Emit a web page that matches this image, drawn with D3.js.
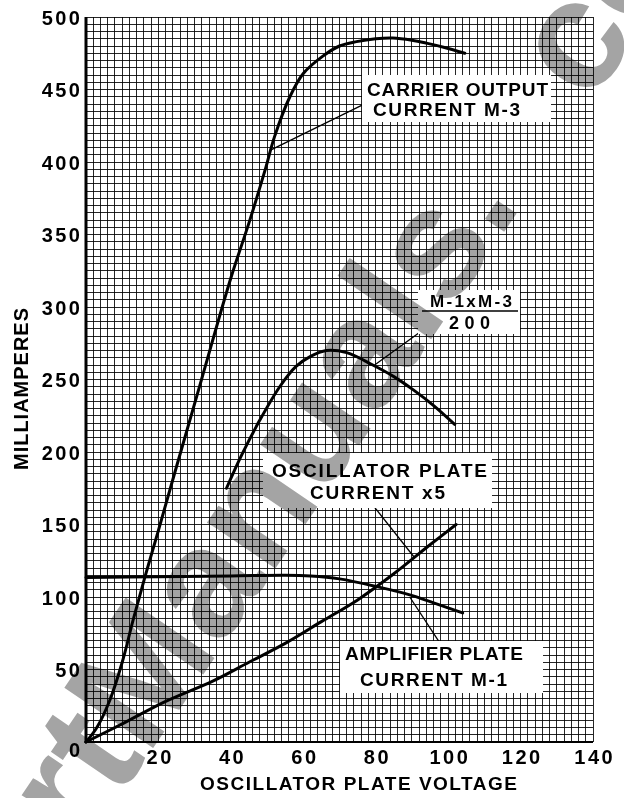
<!DOCTYPE html>
<html>
<head>
<meta charset="utf-8">
<script src="https://cdn.jsdelivr.net/npm/d3@7"></script>
<style>
  body { margin: 0; background: #fff; }
  text { font-family: "Liberation Sans", Arial, sans-serif; font-weight: bold; fill: #000; }
</style>
</head>
<body>
<div id="chart"></div>
<script>
// values (volts, milliamperes)
const carrierOutput = [[0,0],[3,10],[6.6,29],[10,55],[13,84],[16.3,114],[20,146],[25,190],[31.9,250],[40,320],[45,358],[49.4,394],[52,417],[56.3,445],[60,461],[65.4,473],[70,480],[74.7,483],[80,485],[84.7,485.5],[90,484],[94,482],[99,479],[104.6,475]];
const productCurve = [[38.8,175],[43,198],[48,222],[53.5,245],[58,259],[62,266],[66.4,270],[72,268.5],[79.2,260],[85,252],[90.3,243],[96,232],[101.8,219]];
const oscPlateX5 = [[0,0],[10,12.5],[22,28],[35,42],[45,55],[55,68],[65,83],[75,98],[85,116],[95,136],[102.2,150]];
const ampPlate = [[0,113.5],[20,114],[40,114.5],[55,115],[62,114.5],[70,112.5],[80.6,107],[89.4,101.5],[96,96],[104,89]];

const xTicks = [20, 40, 60, 80, 100, 120, 140];
const yTicks = [50, 100, 150, 200, 250, 300, 350, 400, 450, 500];

// leader lines: [curve point, label point]
const leaders = [
  [[50.8,408],[79.2,442.8]],
  [[79.7,260],[95.7,289]],
  [[79.2,163.4],[90.8,126.9]],
  [[89.4,100],[97.7,68.3]]
];

const W = 624, H = 798;
const svg = d3.select("#chart").append("svg")
  .attr("width", W).attr("height", H);

const x = d3.scaleLinear().domain([0, 140]).range([86, 593]);
const y = d3.scaleLinear().domain([0, 500]).range([742, 17]);

// graph paper
const grid = svg.append("g").attr("stroke", "#000").attr("stroke-opacity", 0.85)
  .attr("shape-rendering", "crispEdges").attr("stroke-width", 1);
grid.selectAll(".v").data(d3.range(0, 141, 2)).join("line")
  .attr("x1", d => x(d)).attr("x2", d => x(d))
  .attr("y1", y(0)).attr("y2", y(500));
grid.selectAll(".h").data(d3.range(0, 501, 5)).join("line")
  .attr("y1", d => y(d)).attr("y2", d => y(d))
  .attr("x1", x(0)).attr("x2", x(140));

// axes frame
svg.append("line").attr("x1", x(0)).attr("x2", x(0)).attr("y1", y(0) + 1).attr("y2", y(500))
  .attr("stroke", "#000").attr("stroke-width", 3);
svg.append("line").attr("x1", x(0)).attr("x2", x(140)).attr("y1", y(0)).attr("y2", y(0))
  .attr("stroke", "#000").attr("stroke-width", 2);

// tick labels
const yAxis = svg.append("g").attr("transform", `translate(${x(0) - 6},0)`)
  .call(d3.axisLeft(y).tickValues(yTicks).tickSize(0).tickPadding(0));
yAxis.select(".domain").remove();
yAxis.selectAll("text").attr("font-size", 20).attr("letter-spacing", 2.5)
  .attr("font-family", "Liberation Sans").attr("font-weight", "bold")
  .attr("dy", "0.36em").attr("dx", 2.5);

const xAxis = svg.append("g").attr("transform", `translate(0,${y(0) + 8})`)
  .call(d3.axisBottom(x).tickValues(xTicks).tickSize(0).tickPadding(0));
xAxis.select(".domain").remove();
xAxis.selectAll("text").attr("font-size", 20).attr("letter-spacing", 2.5)
  .attr("font-family", "Liberation Sans").attr("font-weight", "bold")
  .attr("dy", "0.71em").attr("dx", 1.2);

svg.append("text").attr("x", x(0) - 6).attr("y", y(0) + 15)
  .attr("text-anchor", "end").attr("font-size", 20).text("0");

// axis titles
svg.append("text").attr("transform", "translate(28,389) rotate(-90)")
  .attr("text-anchor", "middle").attr("font-size", 20)
  .attr("textLength", 162).attr("lengthAdjust", "spacing").text("MILLIAMPERES");
svg.append("text").attr("x", 200).attr("y", 790)
  .attr("font-size", 19).attr("textLength", 317).attr("lengthAdjust", "spacing")
  .text("OSCILLATOR PLATE VOLTAGE");

// curves
const line = d3.line().x(d => x(d[0])).y(d => y(d[1])).curve(d3.curveCatmullRom.alpha(0.5));
const curves = svg.append("g").attr("fill", "none").attr("stroke", "#000")
  .attr("stroke-width", 3).attr("stroke-linecap", "round");
[carrierOutput, productCurve, oscPlateX5, ampPlate].forEach(s => {
  curves.append("path").attr("d", line(s));
});

// leader lines
svg.append("g").selectAll("line").data(leaders).join("line")
  .attr("x1", d => x(d[0][0])).attr("y1", d => y(d[0][1]))
  .attr("x2", d => x(d[1][0])).attr("y2", d => y(d[1][1]))
  .attr("stroke", "#000").attr("stroke-width", 1.3);

// label boxes
function label(box, lines) {
  svg.append("rect").attr("x", box[0]).attr("y", box[1])
    .attr("width", box[2]).attr("height", box[3]).attr("fill", "#fff");
  lines.forEach(l => {
    svg.append("text").attr("x", l.x).attr("y", l.y)
      .attr("font-size", l.size || 19)
      .attr("textLength", l.w).attr("lengthAdjust", "spacing")
      .text(l.t);
  });
}
label([362, 75, 189, 47], [
  { t: "CARRIER OUTPUT", x: 367, y: 96, w: 181 },
  { t: "CURRENT M-3", x: 373, y: 116, w: 147 }
]);
label([418, 290, 102, 44], [
  { t: "M-1xM-3", x: 430, y: 307, w: 82, size: 17 },
  { t: "200", x: 449, y: 329, w: 41, size: 18 }
]);
svg.append("line").attr("x1", 422).attr("x2", 518).attr("y1", 311).attr("y2", 311)
  .attr("stroke", "#000").attr("stroke-width", 1.6);
label([263, 453, 229, 55], [
  { t: "OSCILLATOR PLATE", x: 272, y: 477, w: 215 },
  { t: "CURRENT x5", x: 310, y: 499, w: 135 }
]);
label([340, 641, 203, 52], [
  { t: "AMPLIFIER PLATE", x: 345, y: 660, w: 178 },
  { t: "CURRENT M-1", x: 360, y: 686, w: 147 }
]);

// site watermark on the scan
const wm = svg.append("text").attr("transform", "translate(84,850) rotate(-55.8)")
  .attr("font-size", 156)
  .style("fill", "#a4a4a4")
  .style("mix-blend-mode", "multiply");
wm.append("tspan").text("rtManuals.");
wm.append("tspan").attr("dx", 120).text("co");
</script>
</body>
</html>
